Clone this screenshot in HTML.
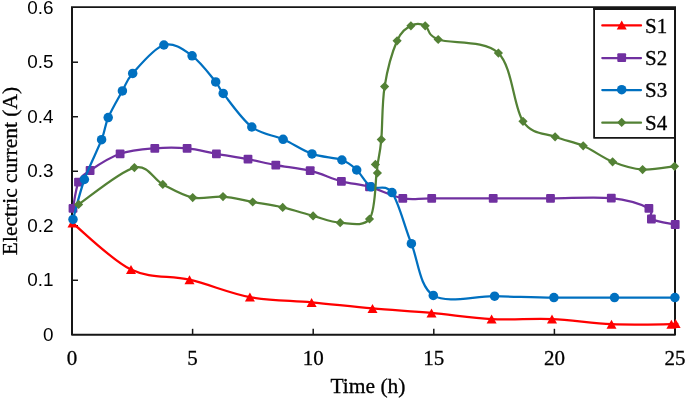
<!DOCTYPE html>
<html><head><meta charset="utf-8"><style>
html,body{margin:0;padding:0;background:#fff;}
body{width:685px;height:399px;overflow:hidden;}
svg{display:block;will-change:transform;}
.ys{font-family:"Liberation Sans",sans-serif;font-size:18px;fill:#000;}
.xs{font-family:"Liberation Serif",serif;font-size:21px;fill:#000;stroke:#000;stroke-width:0.3px;}
.lg{font-family:"Liberation Serif",serif;font-size:21px;fill:#000;stroke:#000;stroke-width:0.3px;}
.tt{font-family:"Liberation Serif",serif;font-size:21.5px;fill:#000;stroke:#000;stroke-width:0.3px;}
</style></head><body>
<svg width="685" height="399" viewBox="0 0 685 399">
<rect width="685" height="399" fill="#fff"/>
<path d="M72.00,7.20 V334.80 H675.00 V7.20" fill="none" stroke="#161616" stroke-width="2" stroke-linejoin="round"/>
<path d="M71.00,7.20 H676.00" fill="none" stroke="#161616" stroke-width="1.7"/>
<line x1="192.60" y1="334.80" x2="192.60" y2="328.80" stroke="#161616" stroke-width="1.5"/>
<line x1="313.20" y1="334.80" x2="313.20" y2="328.80" stroke="#161616" stroke-width="1.5"/>
<line x1="433.80" y1="334.80" x2="433.80" y2="328.80" stroke="#161616" stroke-width="1.5"/>
<line x1="554.40" y1="334.80" x2="554.40" y2="328.80" stroke="#161616" stroke-width="1.5"/>
<line x1="675.00" y1="334.80" x2="675.00" y2="328.80" stroke="#161616" stroke-width="1.5"/>
<line x1="72.00" y1="280.28" x2="78.00" y2="280.28" stroke="#161616" stroke-width="1.5"/>
<line x1="72.00" y1="225.77" x2="78.00" y2="225.77" stroke="#161616" stroke-width="1.5"/>
<line x1="72.00" y1="171.25" x2="78.00" y2="171.25" stroke="#161616" stroke-width="1.5"/>
<line x1="72.00" y1="116.73" x2="78.00" y2="116.73" stroke="#161616" stroke-width="1.5"/>
<line x1="72.00" y1="62.22" x2="78.00" y2="62.22" stroke="#161616" stroke-width="1.5"/>
<path d="M72.50,223.00 C82.25,230.77 111.50,260.15 131.00,269.60 C150.50,279.05 169.68,275.12 189.50,279.70 C209.32,284.28 229.55,293.32 249.90,297.10 C270.25,300.88 291.17,300.52 311.60,302.40 C332.03,304.28 352.52,306.65 372.50,308.40 C392.48,310.15 411.65,311.12 431.50,312.90 C451.35,314.68 471.52,318.07 491.60,319.10 C511.68,320.13 532.02,318.25 552.00,319.10 C571.98,319.95 591.60,323.35 611.50,324.20 C631.40,325.05 660.72,324.30 671.40,324.20 C682.08,324.10 674.90,323.70 675.60,323.60" fill="none" stroke="#FF0000" stroke-width="2.25" stroke-linejoin="round" stroke-linecap="round"/>
<polygon points="72.50,218.50 77.50,227.50 67.50,227.50" fill="#FF0000"/>
<polygon points="131.00,265.10 136.00,274.10 126.00,274.10" fill="#FF0000"/>
<polygon points="189.50,275.20 194.50,284.20 184.50,284.20" fill="#FF0000"/>
<polygon points="249.90,292.60 254.90,301.60 244.90,301.60" fill="#FF0000"/>
<polygon points="311.60,297.90 316.60,306.90 306.60,306.90" fill="#FF0000"/>
<polygon points="372.50,303.90 377.50,312.90 367.50,312.90" fill="#FF0000"/>
<polygon points="431.50,308.40 436.50,317.40 426.50,317.40" fill="#FF0000"/>
<polygon points="491.60,314.60 496.60,323.60 486.60,323.60" fill="#FF0000"/>
<polygon points="552.00,314.60 557.00,323.60 547.00,323.60" fill="#FF0000"/>
<polygon points="611.50,319.70 616.50,328.70 606.50,328.70" fill="#FF0000"/>
<polygon points="671.40,319.70 676.40,328.70 666.40,328.70" fill="#FF0000"/>
<polygon points="675.60,319.10 680.60,328.10 670.60,328.10" fill="#FF0000"/>
<path d="M73.00,208.30 C73.92,203.95 75.65,188.50 78.50,182.20 C81.35,175.90 83.17,175.23 90.10,170.50 C97.03,165.77 109.32,157.50 120.10,153.80 C130.88,150.10 143.63,149.22 154.80,148.30 C165.97,147.38 176.83,147.38 187.10,148.30 C197.37,149.22 206.25,151.98 216.40,153.80 C226.55,155.62 238.10,157.32 248.00,159.20 C257.90,161.08 265.43,163.18 275.80,165.10 C286.17,167.02 299.27,168.00 310.20,170.70 C321.13,173.40 331.52,178.62 341.40,181.30 C351.28,183.98 359.27,183.97 369.50,186.80 C379.73,189.63 392.43,196.37 402.80,198.30 C413.17,200.23 416.63,198.38 431.70,198.40 C446.77,198.42 473.40,198.40 493.20,198.40 C513.00,198.40 530.82,198.43 550.50,198.40 C570.18,198.37 594.90,196.53 611.30,198.20 C627.70,199.87 642.22,204.93 648.90,208.40 C655.58,211.87 647.02,216.32 651.40,219.00 C655.78,221.68 671.23,223.58 675.20,224.50" fill="none" stroke="#7030A0" stroke-width="2.25" stroke-linejoin="round" stroke-linecap="round"/>
<rect x="68.60" y="203.90" width="8.80" height="8.80" rx="1" fill="#7030A0"/>
<rect x="74.10" y="177.80" width="8.80" height="8.80" rx="1" fill="#7030A0"/>
<rect x="85.70" y="166.10" width="8.80" height="8.80" rx="1" fill="#7030A0"/>
<rect x="115.70" y="149.40" width="8.80" height="8.80" rx="1" fill="#7030A0"/>
<rect x="150.40" y="143.90" width="8.80" height="8.80" rx="1" fill="#7030A0"/>
<rect x="182.70" y="143.90" width="8.80" height="8.80" rx="1" fill="#7030A0"/>
<rect x="212.00" y="149.40" width="8.80" height="8.80" rx="1" fill="#7030A0"/>
<rect x="243.60" y="154.80" width="8.80" height="8.80" rx="1" fill="#7030A0"/>
<rect x="271.40" y="160.70" width="8.80" height="8.80" rx="1" fill="#7030A0"/>
<rect x="305.80" y="166.30" width="8.80" height="8.80" rx="1" fill="#7030A0"/>
<rect x="337.00" y="176.90" width="8.80" height="8.80" rx="1" fill="#7030A0"/>
<rect x="365.10" y="182.40" width="8.80" height="8.80" rx="1" fill="#7030A0"/>
<rect x="398.40" y="193.90" width="8.80" height="8.80" rx="1" fill="#7030A0"/>
<rect x="427.30" y="194.00" width="8.80" height="8.80" rx="1" fill="#7030A0"/>
<rect x="488.80" y="194.00" width="8.80" height="8.80" rx="1" fill="#7030A0"/>
<rect x="546.10" y="194.00" width="8.80" height="8.80" rx="1" fill="#7030A0"/>
<rect x="606.90" y="193.80" width="8.80" height="8.80" rx="1" fill="#7030A0"/>
<rect x="644.50" y="204.00" width="8.80" height="8.80" rx="1" fill="#7030A0"/>
<rect x="647.00" y="214.60" width="8.80" height="8.80" rx="1" fill="#7030A0"/>
<rect x="670.80" y="220.10" width="8.80" height="8.80" rx="1" fill="#7030A0"/>
<path d="M73.00,219.40 C74.90,212.75 79.63,192.78 84.40,179.50 C89.17,166.22 97.63,150.02 101.60,139.70 C105.57,129.38 104.73,125.73 108.20,117.60 C111.67,109.47 118.32,98.27 122.40,90.90 C126.48,83.53 125.78,81.05 132.70,73.40 C139.62,65.75 154.00,47.93 163.90,45.00 C173.80,42.07 183.47,49.65 192.10,55.80 C200.73,61.95 210.52,75.63 215.70,81.90 C220.88,88.17 217.18,85.88 223.20,93.40 C229.22,100.92 241.82,119.35 251.80,127.00 C261.78,134.65 273.07,134.82 283.10,139.30 C293.13,143.78 302.20,150.45 312.00,153.90 C321.80,157.35 334.45,157.32 341.90,160.00 C349.35,162.68 351.85,165.53 356.70,170.00 C361.55,174.47 365.12,183.03 371.00,186.80 C376.88,190.57 385.27,183.12 392.00,192.60 C398.73,202.08 404.52,226.57 411.40,243.70 C418.28,260.83 419.43,286.65 433.30,295.40 C447.17,304.15 474.50,295.83 494.60,296.20 C514.70,296.57 533.92,297.37 553.90,297.60 C573.88,297.83 594.33,297.60 614.50,297.60 C634.67,297.60 664.83,297.60 674.90,297.60" fill="none" stroke="#0070C0" stroke-width="2.25" stroke-linejoin="round" stroke-linecap="round"/>
<circle cx="73.00" cy="219.40" r="4.75" fill="#0070C0"/>
<circle cx="84.40" cy="179.50" r="4.75" fill="#0070C0"/>
<circle cx="101.60" cy="139.70" r="4.75" fill="#0070C0"/>
<circle cx="108.20" cy="117.60" r="4.75" fill="#0070C0"/>
<circle cx="122.40" cy="90.90" r="4.75" fill="#0070C0"/>
<circle cx="132.70" cy="73.40" r="4.75" fill="#0070C0"/>
<circle cx="163.90" cy="45.00" r="4.75" fill="#0070C0"/>
<circle cx="192.10" cy="55.80" r="4.75" fill="#0070C0"/>
<circle cx="215.70" cy="81.90" r="4.75" fill="#0070C0"/>
<circle cx="223.20" cy="93.40" r="4.75" fill="#0070C0"/>
<circle cx="251.80" cy="127.00" r="4.75" fill="#0070C0"/>
<circle cx="283.10" cy="139.30" r="4.75" fill="#0070C0"/>
<circle cx="312.00" cy="153.90" r="4.75" fill="#0070C0"/>
<circle cx="341.90" cy="160.00" r="4.75" fill="#0070C0"/>
<circle cx="356.70" cy="170.00" r="4.75" fill="#0070C0"/>
<circle cx="371.00" cy="186.80" r="4.75" fill="#0070C0"/>
<circle cx="392.00" cy="192.60" r="4.75" fill="#0070C0"/>
<circle cx="411.40" cy="243.70" r="4.75" fill="#0070C0"/>
<circle cx="433.30" cy="295.40" r="4.75" fill="#0070C0"/>
<circle cx="494.60" cy="296.20" r="4.75" fill="#0070C0"/>
<circle cx="553.90" cy="297.60" r="4.75" fill="#0070C0"/>
<circle cx="614.50" cy="297.60" r="4.75" fill="#0070C0"/>
<circle cx="674.90" cy="297.60" r="4.75" fill="#0070C0"/>
<path d="M78.60,204.40 C87.90,198.27 120.37,170.93 134.40,167.60 C148.43,164.27 153.08,179.40 162.80,184.40 C172.52,189.40 182.67,195.57 192.70,197.60 C202.73,199.63 213.00,195.87 223.00,196.60 C233.00,197.33 242.75,200.20 252.70,202.00 C262.65,203.80 272.63,205.08 282.70,207.40 C292.77,209.72 303.52,213.35 313.10,215.90 C322.68,218.45 330.80,222.18 340.20,222.70 C349.60,223.22 363.43,227.28 369.50,219.00 C375.57,210.72 375.25,182.10 376.60,173.00 C377.95,163.90 376.82,169.97 377.60,164.40 C378.38,158.83 380.13,152.57 381.30,139.60 C382.47,126.63 381.97,103.07 384.60,86.60 C387.23,70.13 392.72,50.93 397.10,40.80 C401.48,30.67 406.22,28.30 410.90,25.80 C415.58,23.30 420.65,23.52 425.20,25.80 C429.75,28.08 426.00,34.95 438.20,39.50 C450.40,44.05 484.27,39.47 498.40,53.10 C512.53,66.73 513.55,107.35 523.00,121.30 C532.45,135.25 545.07,132.72 555.10,136.80 C565.13,140.88 573.62,141.63 583.20,145.80 C592.78,149.97 602.70,157.83 612.60,161.80 C622.50,165.77 632.28,168.85 642.60,169.60 C652.92,170.35 669.18,166.85 674.50,166.30" fill="none" stroke="#538135" stroke-width="2.25" stroke-linejoin="round" stroke-linecap="round"/>
<polygon points="78.60,199.80 83.20,204.40 78.60,209.00 74.00,204.40" fill="#538135"/>
<polygon points="134.40,163.00 139.00,167.60 134.40,172.20 129.80,167.60" fill="#538135"/>
<polygon points="162.80,179.80 167.40,184.40 162.80,189.00 158.20,184.40" fill="#538135"/>
<polygon points="192.70,193.00 197.30,197.60 192.70,202.20 188.10,197.60" fill="#538135"/>
<polygon points="223.00,192.00 227.60,196.60 223.00,201.20 218.40,196.60" fill="#538135"/>
<polygon points="252.70,197.40 257.30,202.00 252.70,206.60 248.10,202.00" fill="#538135"/>
<polygon points="282.70,202.80 287.30,207.40 282.70,212.00 278.10,207.40" fill="#538135"/>
<polygon points="313.10,211.30 317.70,215.90 313.10,220.50 308.50,215.90" fill="#538135"/>
<polygon points="340.20,218.10 344.80,222.70 340.20,227.30 335.60,222.70" fill="#538135"/>
<polygon points="369.50,214.40 374.10,219.00 369.50,223.60 364.90,219.00" fill="#538135"/>
<polygon points="377.40,168.40 382.00,173.00 377.40,177.60 372.80,173.00" fill="#538135"/>
<polygon points="375.40,159.80 380.00,164.40 375.40,169.00 370.80,164.40" fill="#538135"/>
<polygon points="381.30,135.00 385.90,139.60 381.30,144.20 376.70,139.60" fill="#538135"/>
<polygon points="384.60,82.00 389.20,86.60 384.60,91.20 380.00,86.60" fill="#538135"/>
<polygon points="397.10,36.20 401.70,40.80 397.10,45.40 392.50,40.80" fill="#538135"/>
<polygon points="410.90,21.20 415.50,25.80 410.90,30.40 406.30,25.80" fill="#538135"/>
<polygon points="425.20,21.20 429.80,25.80 425.20,30.40 420.60,25.80" fill="#538135"/>
<polygon points="438.20,34.90 442.80,39.50 438.20,44.10 433.60,39.50" fill="#538135"/>
<polygon points="498.40,48.50 503.00,53.10 498.40,57.70 493.80,53.10" fill="#538135"/>
<polygon points="523.00,116.70 527.60,121.30 523.00,125.90 518.40,121.30" fill="#538135"/>
<polygon points="555.10,132.20 559.70,136.80 555.10,141.40 550.50,136.80" fill="#538135"/>
<polygon points="583.20,141.20 587.80,145.80 583.20,150.40 578.60,145.80" fill="#538135"/>
<polygon points="612.60,157.20 617.20,161.80 612.60,166.40 608.00,161.80" fill="#538135"/>
<polygon points="642.60,165.00 647.20,169.60 642.60,174.20 638.00,169.60" fill="#538135"/>
<polygon points="674.50,161.70 679.10,166.30 674.50,170.90 669.90,166.30" fill="#538135"/>
<rect x="594" y="9" width="81" height="129" fill="#fff"/>
<path d="M594.1,8 V137.9 H675" fill="none" stroke="#161616" stroke-width="1.8" stroke-linejoin="round"/>
<path d="M593.2,9 H675.5" fill="none" stroke="#161616" stroke-width="2"/>
<path d="M675,8 V138.5" fill="none" stroke="#161616" stroke-width="2"/>
<line x1="602.3" y1="25.40" x2="641" y2="25.40" stroke="#FF0000" stroke-width="2.25" stroke-linecap="round"/>
<polygon points="621.70,20.60 626.70,29.60 616.70,29.60" fill="#FF0000"/>
<text x="645" y="32.60" class="lg">S1</text>
<line x1="602.3" y1="58.00" x2="641" y2="58.00" stroke="#7030A0" stroke-width="2.25" stroke-linecap="round"/>
<rect x="617.30" y="53.30" width="8.80" height="8.80" rx="1" fill="#7030A0"/>
<text x="645" y="65.20" class="lg">S2</text>
<line x1="602.3" y1="90.00" x2="641" y2="90.00" stroke="#0070C0" stroke-width="2.25" stroke-linecap="round"/>
<circle cx="621.70" cy="89.70" r="4.75" fill="#0070C0"/>
<text x="645" y="97.20" class="lg">S3</text>
<line x1="602.3" y1="122.70" x2="641" y2="122.70" stroke="#538135" stroke-width="2.25" stroke-linecap="round"/>
<polygon points="621.70,117.80 626.30,122.40 621.70,127.00 617.10,122.40" fill="#538135"/>
<text x="645" y="129.90" class="lg">S4</text>
<text transform="translate(53.6,340.70) scale(1.05,1)" text-anchor="end" class="ys">0</text>
<text transform="translate(53.6,286.18) scale(1.05,1)" text-anchor="end" class="ys">0.1</text>
<text transform="translate(53.6,231.67) scale(1.05,1)" text-anchor="end" class="ys">0.2</text>
<text transform="translate(53.6,177.15) scale(1.05,1)" text-anchor="end" class="ys">0.3</text>
<text transform="translate(53.6,122.63) scale(1.05,1)" text-anchor="end" class="ys">0.4</text>
<text transform="translate(53.6,68.12) scale(1.05,1)" text-anchor="end" class="ys">0.5</text>
<text transform="translate(53.6,13.60) scale(1.05,1)" text-anchor="end" class="ys">0.6</text>
<text x="72.00" y="364.8" text-anchor="middle" class="xs">0</text>
<text x="192.60" y="364.8" text-anchor="middle" class="xs">5</text>
<text x="313.20" y="364.8" text-anchor="middle" class="xs">10</text>
<text x="433.80" y="364.8" text-anchor="middle" class="xs">15</text>
<text x="554.40" y="364.8" text-anchor="middle" class="xs">20</text>
<text x="675.00" y="364.8" text-anchor="middle" class="xs">25</text>
<text x="368" y="392.6" text-anchor="middle" class="tt">Time (h)</text>
<text transform="translate(17.2,171) rotate(-90)" text-anchor="middle" class="tt">Electric current (A)</text>
</svg>
</body></html>
